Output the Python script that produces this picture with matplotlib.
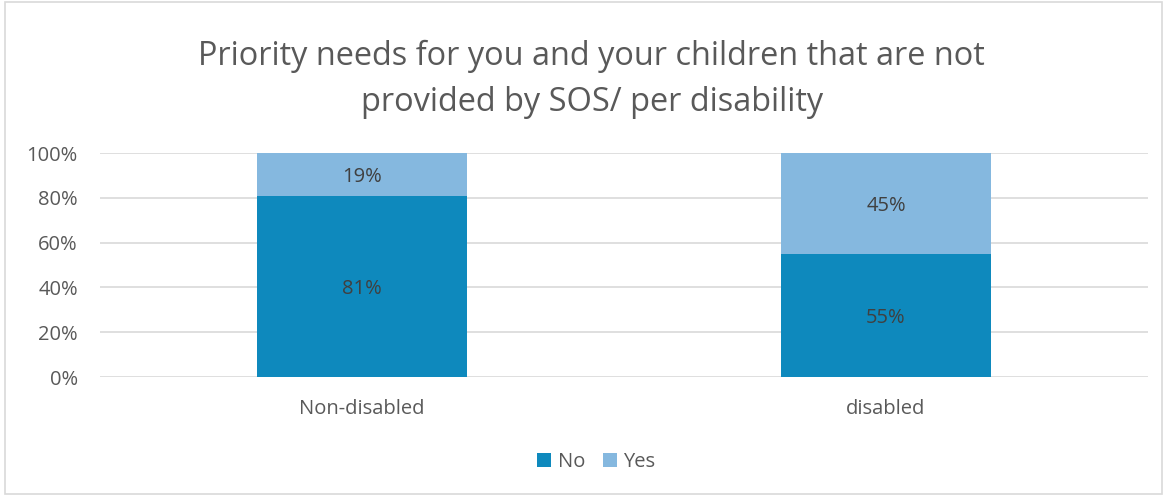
import matplotlib.pyplot as plt
from matplotlib.patches import Rectangle
from matplotlib.ticker import PercentFormatter

categories = ["Non-disabled", "disabled"]
no_vals = [81, 55]
yes_vals = [19, 45]
series_names = ["No", "Yes"]
colors = ["#0E89BD", "#85B8DF"]

plt.rcParams['font.family'] = ['Open Sans', 'DejaVu Sans']

fig = plt.figure(figsize=(11.67, 4.96), dpi=100)
ax = fig.add_axes([0.0857, 0.2399, 0.8980, 0.4516])

x = range(len(categories))
b1 = ax.bar(x, no_vals, width=0.4, color=colors[0], label=series_names[0], zorder=2)
b2 = ax.bar(x, yes_vals, width=0.4, bottom=no_vals, color=colors[1], label=series_names[1], zorder=2)

# value labels in the middle of each segment
for bars, vals, bottoms in [(b1, no_vals, [0, 0]), (b2, yes_vals, no_vals)]:
    for rect, v, b in zip(bars, vals, bottoms):
        ax.text(rect.get_x() + rect.get_width() / 2, b + v / 2 - 1.2, f"{v}%",
                ha="center", va="center", fontsize=14.5, color="#404040")

ax.set_xlim(-0.5, 1.5)
ax.set_ylim(0, 100)
ax.set_yticks(range(0, 101, 20))
ax.yaxis.set_major_formatter(PercentFormatter(decimals=0))
ax.set_xticks(list(x))
ax.set_xticklabels(categories)
ax.tick_params(axis="both", length=0, labelsize=14.5, labelcolor="#595959")
ax.tick_params(axis="y", pad=16)
ax.tick_params(axis="x", pad=16)
ax.grid(axis="y", color="#D9D9D9", linewidth=1.2, zorder=0)
for s in ax.spines.values():
    s.set_visible(False)

fig.text(0.507, 0.840, "Priority needs for you and your children that are not\nprovided by SOS/ per disability",
         ha="center", va="center", fontsize=23.4, color="#595959", linespacing=1.5)

fig.legend(handles=[b1, b2], labels=series_names, loc="center", bbox_to_anchor=(0.511, 0.068),
           ncol=2, frameon=False, fontsize=14.5, labelcolor="#595959",
           handlelength=0.7, handleheight=0.7, handletextpad=0.3, columnspacing=0.9)

fig.patches.append(Rectangle((0.004, 0.004), 0.992, 0.992, transform=fig.transFigure,
                             fill=False, edgecolor="#D9D9D9", linewidth=1.2))

fig.savefig("out.png", dpi=100, facecolor="white")
